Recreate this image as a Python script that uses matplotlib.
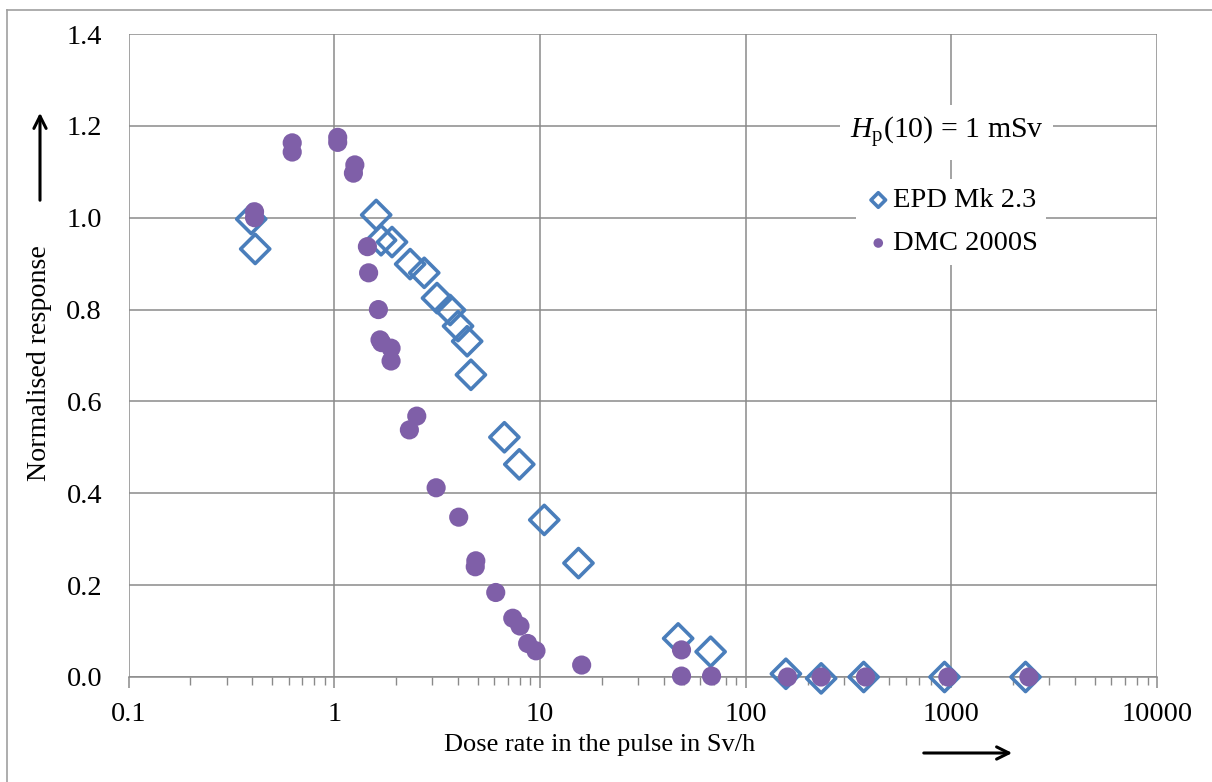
import matplotlib.pyplot as plt
from matplotlib.ticker import LogLocator, NullFormatter, FixedLocator

plt.rcParams['font.family'] = ['Liberation Serif', 'DejaVu Serif']
plt.rcParams['mathtext.fontset'] = 'custom'
plt.rcParams['mathtext.rm'] = 'Liberation Serif'
plt.rcParams['mathtext.it'] = 'Liberation Serif:italic'

# EPD Mk 2.3 (open diamonds)
epd_rate = [0.395, 0.413, 1.60, 1.69, 1.91, 2.34, 2.74, 3.16, 3.66, 4.0, 4.43, 4.62,
            6.72, 7.94, 10.5, 15.4, 47.0, 67.6, 157, 233, 375, 927, 2296]
epd_resp = [0.997, 0.932, 1.006, 0.951, 0.947, 0.899, 0.880, 0.825, 0.799, 0.764, 0.731, 0.658,
            0.522, 0.463, 0.342, 0.248, 0.084, 0.055, 0.007, -0.003, 0.0, 0.0, 0.0]

# DMC 2000S (filled circles)
dmc_rate = [0.41, 0.41, 0.625, 0.625, 1.04, 1.04, 1.26, 1.24, 1.45, 1.47, 1.64, 1.67, 1.70,
            1.89, 1.89, 2.32, 2.52, 3.13, 4.03, 4.88, 4.85, 6.10, 7.38, 8.0, 8.72, 9.57,
            15.96, 48.8, 48.8, 68.3, 160, 233, 383, 962, 2383]
dmc_resp = [1.013, 1.0, 1.163, 1.143, 1.175, 1.164, 1.115, 1.097, 0.937, 0.880, 0.800, 0.734, 0.728,
            0.716, 0.688, 0.538, 0.568, 0.412, 0.348, 0.253, 0.240, 0.184, 0.128, 0.111, 0.073, 0.057,
            0.026, 0.059, 0.002, 0.002, 0.0, 0.0, 0.0, 0.0, 0.0]

fs = 20.5
fig = plt.figure(figsize=(12.12, 7.82), dpi=100)
ax = fig.add_axes([128.5 / 1212, 1 - 677 / 782, (1157 - 128.5) / 1212, (677 - 34) / 782])

grid_c = '#8a8a8a'
ax.set_xscale('log')
ax.set_xlim(0.1, 10000)
ax.set_ylim(0, 1.4)

ax.xaxis.set_major_locator(FixedLocator([0.1, 1, 10, 100, 1000, 10000]))
ax.xaxis.set_minor_locator(LogLocator(base=10, subs=range(2, 10)))
ax.xaxis.set_minor_formatter(NullFormatter())
ax.set_xticklabels(['0.1', '1', '10', '100', '1000', '10000'])
ax.set_yticks([0, 0.2, 0.4, 0.6, 0.8, 1.0, 1.2, 1.4])
ax.set_yticklabels(['%.1f' % v for v in ax.get_yticks()])

ax.grid(True, which='major', color=grid_c, linewidth=1.1)
ax.set_axisbelow(True)
for s in ['top', 'right', 'left']:
    ax.spines[s].set_visible(False)
ax.spines['bottom'].set_color(grid_c)
ax.spines['bottom'].set_linewidth(1.1)
ax.tick_params(axis='x', which='both', direction='out', color=grid_c, labelsize=fs, pad=10)
ax.tick_params(axis='x', which='major', length=8, width=1.1)
ax.tick_params(axis='x', which='minor', length=6, width=1)
ax.tick_params(axis='y', length=0, labelsize=fs, pad=19)

ax.scatter(epd_rate, epd_resp, marker='D', s=220, facecolors='none', edgecolors='#4A7EBB',
           linewidths=2.6, label='EPD Mk 2.3', zorder=3, clip_on=False)
ax.scatter(dmc_rate, dmc_resp, marker='o', s=190, color='#7F5FA8', edgecolors='none',
           label='DMC 2000S', zorder=4, clip_on=False)

ax.text(948, 1.186, r'$H_\mathrm{p}$(10) = 1 mSv', fontsize=21.5, ha='center', va='center',
        bbox=dict(facecolor='white', edgecolor='none', pad=7), zorder=5)

leg = ax.legend(loc='upper left', bbox_to_anchor=(727 / 1028.5, (677 - 179) / 643), frameon=True,
                fontsize=fs, handletextpad=0.0, borderpad=0.3, labelspacing=0.6,
                markerscale=0.5, handlelength=1.0, borderaxespad=0)
leg.get_frame().set_edgecolor('none')
leg.get_frame().set_facecolor('white')
leg.get_frame().set_alpha(1)
leg.set_zorder(6)

fig.text(40 / 1212, 1 - 363 / 782, 'Normalised response', rotation=90, fontsize=20.2,
         ha='center', va='center')
fig.text(600 / 1212, 1 - 745 / 782, 'Dose rate in the pulse in Sv/h', fontsize=19,
         ha='center', va='center')

# direction arrows
ax.annotate('', xy=(40 / 1212, 1 - 110 / 782), xytext=(40 / 1212, 1 - 203 / 782),
            xycoords='figure fraction', textcoords='figure fraction',
            arrowprops=dict(arrowstyle='->', lw=2.2, color='black', mutation_scale=22))
ax.annotate('', xy=(1015 / 1212, 1 - 753 / 782), xytext=(921 / 1212, 1 - 753 / 782),
            xycoords='figure fraction', textcoords='figure fraction',
            arrowprops=dict(arrowstyle='->', lw=2.2, color='black', mutation_scale=22))

# outer chart border (left and top edges visible)
fig.add_artist(plt.Line2D([7 / 1212, 7 / 1212], [0, 1 - 10 / 782], color='#a0a0a0', lw=1.2))
fig.add_artist(plt.Line2D([7 / 1212, 1], [1 - 10 / 782, 1 - 10 / 782], color='#a0a0a0', lw=1.2))

fig.savefig('out.png', dpi=100)
